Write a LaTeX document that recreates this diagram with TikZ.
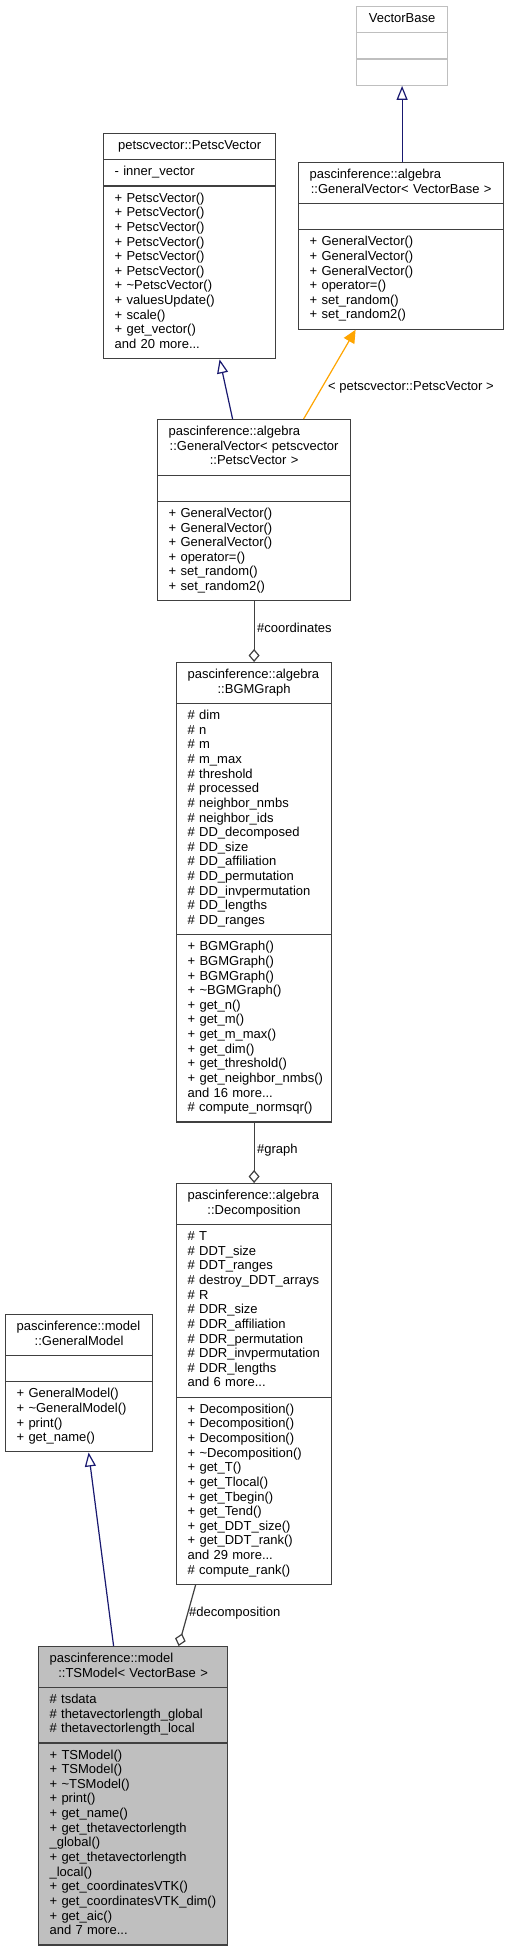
\documentclass[tikz,border=0pt]{standalone}
\usepackage{fontspec}
\setmainfont{Liberation Sans}
\usetikzlibrary{shapes.multipart,arrows.meta}
\definecolor{edgeblue}{HTML}{191970}
\definecolor{edgeorange}{HTML}{FFA500}
\definecolor{boxgray}{HTML}{404040}
\definecolor{extgray}{HTML}{BFBFBF}
\hyphenpenalty=10000
\exhyphenpenalty=10000
\newcommand{\clsmid}[1]{\makebox[\hsize]{#1}}
\begin{document}
\begin{tikzpicture}[x=1pt,y=-1pt,
  cls/.style={rectangle split, rectangle split parts=3, draw=boxgray, line width=1.2pt,
    anchor=north west, align=left, inner xsep=11pt, inner ysep=5.2pt,
    font=\fontsize{13}{14.64}\selectfont,
    execute at begin node=\strut, execute at end node=\strut},
  inherit/.style={draw=edgeblue, line width=1.2pt, -{Triangle[open,length=14pt,width=11pt]}},
  instance/.style={draw=edgeorange, line width=1.2pt, -{Triangle[length=13pt,width=12pt]}},
  uses/.style={draw=boxgray, line width=1.2pt, -{Diamond[open,length=13pt,width=11pt]}},
  edgelabel/.style={anchor=west, inner sep=0pt, font=\fontsize{13}{14.64}\selectfont}]
\fill[white] (0,0) rectangle (509,1948);
\node[cls, draw=extgray, text width=69pt] (vecbase) at (356,6) {\clsmid{VectorBase}%
  \nodepart{two}%
  \nodepart{three}};
\node[cls, text width=183pt] (gvbase) at (298,162) {pascinference::algebra\\\clsmid{::GeneralVector<~VectorBase~>}%
  \nodepart{two}%
  \nodepart{three}+~GeneralVector()\\+~GeneralVector()\\+~GeneralVector()\\+~operator=()\\+~set\_random()\\+~set\_random2()};
\node[cls, text width=150pt] (petsc) at (103,133) {\clsmid{petscvector::PetscVector}%
  \nodepart{two}-~inner\_vector%
  \nodepart{three}+~PetscVector()\\+~PetscVector()\\+~PetscVector()\\+~PetscVector()\\+~PetscVector()\\+~PetscVector()\\+~\textasciitilde PetscVector()\\+~valuesUpdate()\\+~scale()\\+~get\_vector()\\and~20~more...};
\node[cls, text width=171pt] (gvpetsc) at (157,419) {pascinference::algebra\\\clsmid{::GeneralVector<~petscvector}\\\clsmid{::PetscVector~>}%
  \nodepart{two}%
  \nodepart{three}+~GeneralVector()\\+~GeneralVector()\\+~GeneralVector()\\+~operator=()\\+~set\_random()\\+~set\_random2()};
\node[cls, text width=133pt] (bgm) at (176,662) {pascinference::algebra\\\clsmid{::BGMGraph}%
  \nodepart{two}\#~dim\\\#~n\\\#~m\\\#~m\_max\\\#~threshold\\\#~processed\\\#~neighbor\_nmbs\\\#~neighbor\_ids\\\#~DD\_decomposed\\\#~DD\_size\\\#~DD\_affiliation\\\#~DD\_permutation\\\#~DD\_invpermutation\\\#~DD\_lengths\\\#~DD\_ranges%
  \nodepart{three}+~BGMGraph()\\+~BGMGraph()\\+~BGMGraph()\\+~\textasciitilde BGMGraph()\\+~get\_n()\\+~get\_m()\\+~get\_m\_max()\\+~get\_dim()\\+~get\_threshold()\\+~get\_neighbor\_nmbs()\\and~16~more...\\\#~compute\_normsqr()};
\node[cls, text width=133pt] (decomp) at (176,1183) {pascinference::algebra\\\clsmid{::Decomposition}%
  \nodepart{two}\#~T\\\#~DDT\_size\\\#~DDT\_ranges\\\#~destroy\_DDT\_arrays\\\#~R\\\#~DDR\_size\\\#~DDR\_affiliation\\\#~DDR\_permutation\\\#~DDR\_invpermutation\\\#~DDR\_lengths\\and~6~more...%
  \nodepart{three}+~Decomposition()\\+~Decomposition()\\+~Decomposition()\\+~\textasciitilde Decomposition()\\+~get\_T()\\+~get\_Tlocal()\\+~get\_Tbegin()\\+~get\_Tend()\\+~get\_DDT\_size()\\+~get\_DDT\_rank()\\and~29~more...\\\#~compute\_rank()};
\node[cls, text width=125pt] (gmodel) at (5,1314) {pascinference::model\\\clsmid{::GeneralModel}%
  \nodepart{two}%
  \nodepart{three}+~GeneralModel()\\+~\textasciitilde GeneralModel()\\+~print()\\+~get\_name()};
\node[cls, fill=extgray, text width=167pt] (tsmodel) at (38,1646) {pascinference::model\\\clsmid{::TSModel<~VectorBase~>}%
  \nodepart{two}\#~tsdata\\\#~thetavectorlength\_global\\\#~thetavectorlength\_local%
  \nodepart{three}+~TSModel()\\+~TSModel()\\+~\textasciitilde TSModel()\\+~print()\\+~get\_name()\\+~get\_thetavectorlength\\\_global()\\+~get\_thetavectorlength\\\_local()\\+~get\_coordinatesVTK()\\+~get\_coordinatesVTK\_dim()\\+~get\_aic()\\and~7~more...};
\draw[inherit] (gvbase.north -| vecbase.south) -- (vecbase.south);
\draw[inherit] ([xshift=-21.5pt]gvpetsc.north) -- ([xshift=30pt]petsc.south);
\draw[instance] ([xshift=49.5pt]gvpetsc.north) -- ([xshift=-45.5pt]gvbase.south);
\node[edgelabel] (tmpllabel) at (328,387) {<~petscvector::PetscVector~>};
\draw[uses] (gvpetsc.south) -- (bgm.north);
\node[edgelabel] (coordlabel) at (257,628) {\#coordinates};
\draw[uses] (bgm.south) -- (decomp.north);
\node[edgelabel] (graphlabel) at (257,1150) {\#graph};
\draw[inherit] ([xshift=-19.5pt]tsmodel.north) -- ([xshift=9.5pt]gmodel.south);
\draw[uses] ([xshift=-58.5pt]decomp.south) -- ([xshift=45.5pt]tsmodel.north);
\node[edgelabel] (decomplabel) at (189,1613) {\#decomposition};
\end{tikzpicture}
\end{document}
